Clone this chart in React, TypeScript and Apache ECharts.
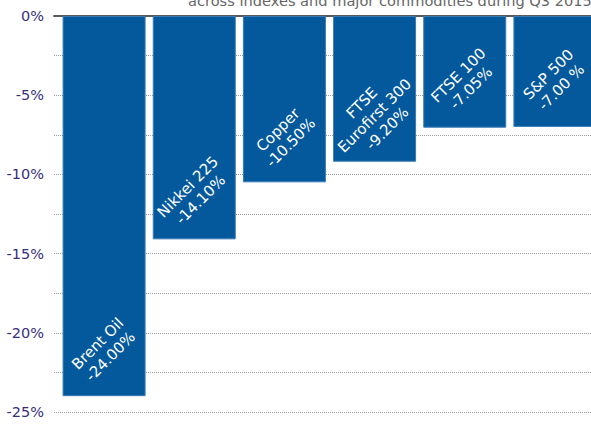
import React, { useEffect, useRef } from "react";
import * as echarts from "echarts";

const categories = ["Brent Oil", "Nikkei 225", "Copper", "FTSE\nEurofirst 300", "FTSE 100", "S&P 500"];
const values = [-24.0, -14.1, -10.5, -9.2, -7.05, -7.0];
const valueLabels = ["-24.00%", "-14.10%", "-10.50%", "-9.20%", "-7.05%", "-7.00 %"];
const titleText = "across indexes and major commodities during Q3 2015";

const FONT = "DejaVu Sans";

export default function App() {
  const ref = useRef<HTMLDivElement>(null);
  useEffect(() => {
    if (!ref.current) return;
    const chart = echarts.init(ref.current, null, { renderer: "svg" });
    chart.setOption({
      animation: false,
      backgroundColor: "#ffffff",
      grid: [
        { left: 54, right: 9, top: 16, bottom: 20 },
        { left: 59, right: 0, top: 16, bottom: 20 },
      ],
      xAxis: [
        {
          gridIndex: 0,
          type: "value",
          position: "top",
          min: 0,
          max: 1,
          axisLine: { show: true, onZero: false, lineStyle: { color: "#5a5a5a", width: 2 } },
          axisTick: { show: false },
          axisLabel: { show: false },
          splitLine: { show: false },
        },
        {
          gridIndex: 1,
          type: "category",
          data: categories,
          show: false,
        },
      ],
      yAxis: [
        {
          gridIndex: 0,
          type: "value",
          min: -25,
          max: 0,
          interval: 2.5,
          axisLine: { show: false },
          axisTick: { show: false },
          axisLabel: {
            margin: 10,
            color: "#36307c",
            fontFamily: FONT,
            fontSize: 14.5,
            formatter: (v: number) => (Math.abs(v % 5) < 1e-9 ? `${v}%` : ""),
          },
          splitLine: { show: true, lineStyle: { type: "dotted", color: "#999999", width: 1 } },
        },
        {
          gridIndex: 1,
          type: "value",
          min: -25,
          max: 0,
          show: false,
          splitLine: { show: false },
        },
      ],
      graphic: [
        {
          type: "text",
          left: 188,
          top: -7,
          style: {
            text: titleText,
            fill: "#666666",
            font: `14.6px "${FONT}"`,
          },
        },
      ],
      series: [
        {
          type: "bar",
          xAxisIndex: 1,
          yAxisIndex: 1,
          barWidth: 83,
          data: values,
          itemStyle: { color: "#03599c", borderColor: "#3a7bb5", borderWidth: 1 },
          label: {
            show: true,
            position: "insideBottom",
            distance: 46,
            rotate: 45,
            align: "center",
            verticalAlign: "middle",
            color: "#ffffff",
            fontFamily: FONT,
            fontSize: 15,
            lineHeight: 18,
            formatter: (p: any) => `${categories[p.dataIndex]}\n${valueLabels[p.dataIndex]}`,
          },
        },
      ],
    });
    return () => chart.dispose();
  }, []);
  return (
    <div
      ref={ref}
      style={{ position: "fixed", left: 0, top: 0, width: 600, height: 432 }}
    />
  );
}
